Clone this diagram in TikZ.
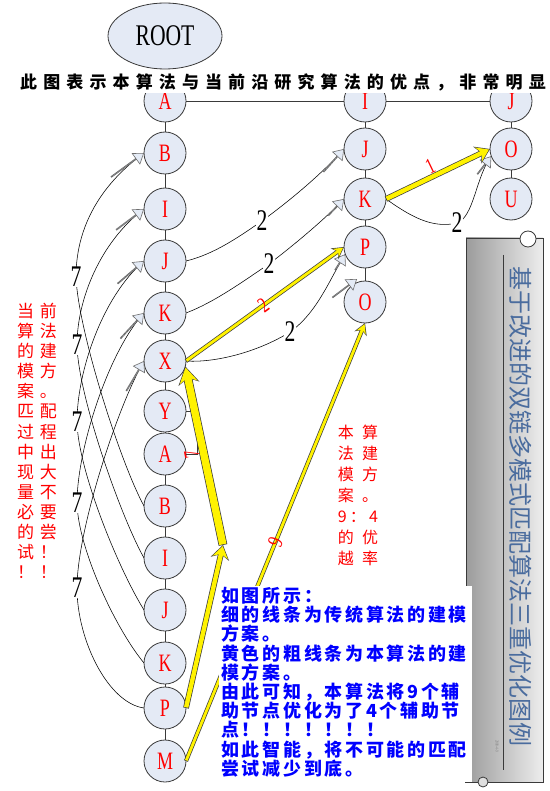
\documentclass[tikz,border=0pt]{standalone}
\usepackage{fontspec}
\newfontfamily\cjk{Noto Sans CJK SC}
\newfontfamily\serifnarrow{Liberation Serif}[FakeStretch=0.72]
\usetikzlibrary{arrows.meta,positioning,shapes.arrows,shapes.geometric}
\newcommand\setfs[2]{\fontsize{#1}{#2}\selectfont}
\definecolor{nodefill}{HTML}{E4EAF5}
\definecolor{rim}{HTML}{3A3A3A}
\definecolor{yedge}{HTML}{3C3C3C}
\definecolor{hollowfill}{HTML}{E4EBF6}
\definecolor{hollowrim}{HTML}{6E6E6E}
\definecolor{platedark}{HTML}{9C9C9C}
\definecolor{platelight}{HTML}{EDEDED}
\definecolor{platetext}{HTML}{4A6C9E}

\begin{document}
\begin{tikzpicture}[x=1pt, y=-1pt,
  ball/.style={circle, draw=rim, fill=nodefill, line width=0.8pt, minimum size=42pt, inner sep=0pt, outer sep=0pt, text=red, font=\serifnarrow\setfs{25}{25}},
  link/.style={draw=rim, line width=0.8pt},
  fine/.style={draw=black, line width=0.55pt},
  num/.style={fill=white, inner sep=0.6pt, font=\serifnarrow\setfs{30}{30}},
  rednum/.style={text=red, inner sep=0pt, font=\serifnarrow\setfs{22}{22}},
  hollowshape/.style={single arrow, draw=hollowrim, fill=hollowfill, line width=0.6pt, minimum height=34pt, minimum width=13pt, single arrow head extend=3.5pt, single arrow tip angle=70, inner sep=0pt},
  hollow/.style={hollowshape, pos=1, sloped, allow upside down, anchor=tip},
  ysmall/.style={preaction={draw=yedge, line width=4.2pt, shorten >=0pt, shorten <=0pt, -{Stealth[length=11.5pt, width=13pt]}}, draw=yellow, line width=2.8pt, shorten >=1.2pt, shorten <=0.7pt, -{Stealth[length=9pt, width=10pt]}},
  ymid/.style={preaction={draw=yedge, line width=5.8pt, shorten >=0pt, shorten <=0pt, -{Stealth[length=14pt, width=18.5pt]}}, draw=yellow, line width=4.4pt, shorten >=1.2pt, shorten <=0.7pt, -{Stealth[length=11.5pt, width=15.5pt]}},
  ybig/.style={preaction={draw=yedge, line width=8.8pt, shorten >=0pt, shorten <=0pt, -{Stealth[length=17.5pt, width=21pt]}}, draw=yellow, line width=7.4pt, shorten >=1.2pt, shorten <=0.7pt, -{Stealth[length=15pt, width=18pt]}}
]
\useasboundingbox (0,0) rectangle (549,791);
\fill[white] (0,0) rectangle (549,791);

\path[left color=platedark, right color=platelight, draw=rim, line width=0.8pt] (466,238) rectangle (543,782);
\draw[rim, line width=1pt] (503,255) -- (503,770);
\node[rotate=-90, text=platetext, font=\cjk\setfs{24}{24}] (plaque) at (521,506) {基于改进的双链多模式匹配算法三重优化图例};
\node[rotate=-90, text=gray, font=\serifnarrow\setfs{4.5}{4.5}] (stamp) at (497,746) {2008-4-9};
\draw[rim, fill=white, line width=0.8pt] (528,239) circle (8pt);

\node[ellipse, draw=rim, fill=nodefill, line width=0.8pt, minimum width=114pt, minimum height=66pt, inner sep=0pt, font=\serifnarrow\setfs{30}{30}] (root) at (165,36) {ROOT};

\node[ball] (a1) at (165,101) {A};
\node[ball, below=10pt of a1] (b1) {B};
\node[ball, below=14pt of b1] (i1) {I};
\node[ball, below=10pt of i1] (j1) {J};
\node[ball, below=10pt of j1] (k1) {K};
\node[ball, below=6pt of k1] (x1) {X};
\node[ball, below=8pt of x1] (y1) {Y};
\node[ball, below=1pt of y1] (a2) {A};
\node[ball, below=10pt of a2] (b2) {B};
\node[ball, below=10pt of b2] (i2) {I};
\node[ball, below=10pt of i2] (j2) {J};
\node[ball, below=11pt of j2] (k2) {K};
\node[ball, below=3pt of k2] (p2) {P};
\node[ball, below=11pt of p2] (m2) {M};

\node[ball, right=158pt of a1] (i3) {I};
\node[ball, below=6pt of i3] (j3) {J};
\node[ball, below=8pt of j3] (k3) {K};
\node[ball, below=6pt of k3] (p3) {P};
\node[ball, below=13pt of p3] (o3) {O};

\node[ball, right=104pt of i3] (j4) {J};
\node[ball, below=6pt of j4] (o4) {O};
\node[ball, below=8pt of o4] (u4) {U};

\draw[link] (a1) -- (i3);
\draw[link] (i3) -- (j4);
\draw[link] (a1) -- (b1);
\draw[link] (b1) -- (i1);
\draw[link] (i1) -- (j1);
\draw[link] (j1) -- (k1);
\draw[link] (k1) -- (x1);
\draw[link] (x1) -- (y1);
\draw[link] (y1) -- (a2);
\draw[link] (a2) -- (b2);
\draw[link] (b2) -- (i2);
\draw[link] (i2) -- (j2);
\draw[link] (j2) -- (k2);
\draw[link] (k2) -- (p2);
\draw[link] (p2) -- (m2);
\draw[link] (i3) -- (j3);
\draw[link] (j3) -- (k3);
\draw[link] (k3) -- (p3);
\draw[link] (p3) -- (o3);
\draw[link] (j4) -- (o4);
\draw[link] (o4) -- (u4);
\draw[link] (y1.east) -- ++(11,0) |- (a2.east);

\draw[fine] (b2.west) .. controls (120,462) and (78,330) .. (76,277) node[num] {7}
  .. controls (76,232) and (96,188) .. (b1.west) node[hollow, minimum height=40pt] {};
\draw[fine] (i2.west) .. controls (120,515) and (78,395) .. (77,345) node[num] {7}
  .. controls (77,300) and (100,242) .. (i1.west) node[hollow] {};
\draw[fine] (j2.west) .. controls (118,568) and (78,470) .. (77,422) node[num] {7}
  .. controls (77,372) and (102,297) .. (j1.west) node[hollow] {};
\draw[fine] (k2.west) .. controls (115,628) and (78,548) .. (77,503) node[num] {7}
  .. controls (77,450) and (108,352) .. (k1.west) node[hollow] {};
\draw[fine] (p2.west) .. controls (108,703) and (77,640) .. (77,588) node[num] {7}
  .. controls (77,530) and (118,405) .. (x1.west) node[hollow] {};

\draw[fine] (j1.east) .. controls (215,254) and (240,236) .. (262,221) node[num] {2}
  .. controls (285,204) and (318,178) .. (j3.west) node[hollow, minimum height=30pt] {};
\draw[fine] (k1.east) .. controls (215,302) and (245,280) .. (269,264) node[num] {2}
  .. controls (290,248) and (322,222) .. (k3.west) node[hollow, minimum height=22pt] {};
\draw[fine] (x1.east) .. controls (215,363) and (258,352) .. (290,332) node[num] {2}
  .. controls (318,312) and (330,278) .. (p3.200) node[hollow, minimum height=18pt] {};
\draw[fine] (k3.east) .. controls (410,216) and (432,229) .. (457,223) node[num] {2}
  .. controls (474,217) and (476,176) .. (o4.200) node[hollow, minimum height=22pt] {};
\node[hollowshape, rotate=37, anchor=tip, minimum height=30pt] (stub) at (357,279) {};

\coordinate (bend) at (223,545);
\draw[ymid] (k3.east) -- (o4.west) node[rednum, pos=0.47, sloped, above=1pt] {1};
\draw[ysmall] (x1.east) -- (p3.west) node[rednum, pos=0.49, sloped] {2};
\draw[ybig] (bend) -- (x1.-15) node[rednum, pos=0.52, sloped, allow upside down, above=1pt] {7};
\draw[ymid] (p2.east) -- (bend);
\draw[ysmall] (m2.east) -- (o3.south) node[rednum, pos=0.5, sloped] {9};

\node[fill=white, minimum height=22pt, inner ysep=0pt, inner xsep=3pt, font=\cjk\bfseries\setfs{17}{17}\addfontfeatures{LetterSpace=36}] (title) at (283,82) {此图表示本算法与当前沿研究算法的优点，非常明显};

\node[text=red, align=left, inner sep=0pt, font=\cjk\setfs{17}{20.1}\addfontfeatures{LetterSpace=35}] (oldnote) at (37,441) {当前\\算法\\的建\\模方\\案。\\匹配\\过程\\中出\\现大\\量不\\必要\\的尝\\试！\\！！};
\node[text=red, align=left, inner sep=0pt, font=\cjk\setfs{16}{21}\addfontfeatures{LetterSpace=53}] (newnote) at (358,495) {本算\\法建\\模方\\案。\\{\addfontfeatures{LetterSpace=20}9：4}\\的优\\越率};

\fill[white] (219,586) rectangle (472,791);
\node[anchor=north west, inner sep=0pt, align=left, text=blue, font=\cjk\bfseries\setfs{18}{19.2}\addfontfeatures{LetterSpace=15}] (legend) at (221,587) {如图所示：\\细的线条为传统算法的建模\\方案。\\黄色的粗线条为本算法的建\\模方案。\\由此可知，本算法将9个辅\\助节点优化为了4个辅助节\\点！！！！！！！\\如此智能，将不可能的匹配\\尝试减少到底。};
\draw[rim, line width=0.8pt] (465,782) -- (478,782);
\draw[rim, fill=gray!25, line width=0.8pt] (483,782) circle (5pt);
\end{tikzpicture}
\end{document}
